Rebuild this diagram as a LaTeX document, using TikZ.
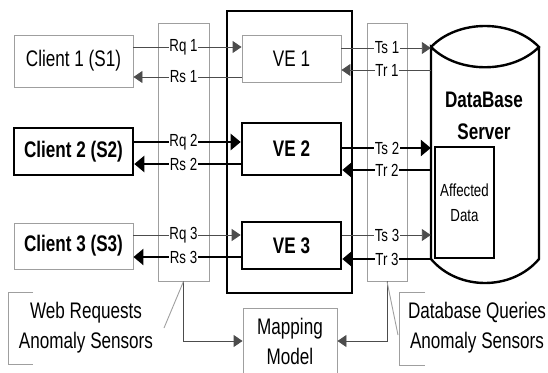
\documentclass[tikz,border=0pt]{standalone}
\usepackage{fontspec}
\newfontfamily\diagfont[FakeStretch=0.76]{Liberation Sans}
\usetikzlibrary{arrows.meta}

\begin{document}
\begin{tikzpicture}[x=1pt, y=-1pt, font=\diagfont\fontsize{22.5}{30}\selectfont,
    thinbox/.style={rectangle, draw=gray!75, line width=0.9pt, align=center},
    thickbox/.style={rectangle, draw=black, line width=2.6pt, align=center, font=\diagfont\fontsize{22.5}{30}\selectfont\bfseries},
    sensor/.style={rectangle, draw=gray!75, line width=0.9pt, minimum height=258pt},
    lab/.style={fill=white, inner sep=0.6pt, font=\diagfont\fontsize{17.5}{18}\selectfont},
    thinarrow/.style={draw=black!70, line width=0.9pt, ->, >={Triangle[length=9pt,width=12pt]}},
    thickarrow/.style={draw=black, line width=2.8pt, ->, >={Triangle[length=10pt,width=16pt]}},
    callout/.style={draw=gray!75, line width=0.9pt}]
    \useasboundingbox (0,0) rectangle (548,372);
    % sensors and virtual environments
    \node [sensor, minimum width=51pt] (lsens) at (183.5,152) {};
    \node [sensor, minimum width=40pt] (rsens) at (387,152) {};
    \node [thickbox, minimum width=125pt, minimum height=282pt] (venv) at (289.5,152) {};
    \node [thinbox, minimum width=119pt, minimum height=52pt] (c1) at (73.5,61) {Client 1 (S1)};
    \node [thickbox, minimum width=119pt, minimum height=47pt] (c2) at (73.5,151.5) {Client 2 (S2)};
    \node [thinbox, minimum width=119pt, minimum height=46pt, font=\diagfont\fontsize{22.5}{30}\selectfont\bfseries] (c3) at (73.5,246) {Client 3 (S3)};
    \node [thinbox, minimum width=99pt, minimum height=47pt] (ve1) at (291.5,58.5) {VE 1};
    \node [thickbox, minimum width=99pt, minimum height=52pt] (ve2) at (291.5,149) {VE 2};
    \node [thickbox, minimum width=99pt, minimum height=47pt] (ve3) at (291.5,245.5) {VE 3};
    % database
    \node [minimum width=108pt, minimum height=212pt, inner sep=0pt] (db) at (485,153) {};
    \draw [line width=2.4pt] (431,47) .. controls (458,19) and (512,19) .. (539,47)
        .. controls (512,74) and (458,74) .. (431,47) -- (431,259)
        .. controls (458,291) and (512,291) .. (539,259) -- (539,47);
    \node [font=\diagfont\fontsize{22.5}{32}\selectfont\bfseries, align=center] (dbtitle) at (484,116) {DataBase\\Server};
    \node [thickbox, minimum width=59pt, minimum height=111pt, inner sep=1pt, font=\diagfont\fontsize{17.5}{25}\selectfont] (aff) at (464.5,202.5) {Affected\\Data};
    \node [thinbox, minimum width=94pt, minimum height=66pt] (map) at (290,341) {Mapping\\Model};
    % client side
    \draw [thinarrow] ([yshift=14pt]c1.east) coordinate (rq1) -- (rq1 -| ve1.west);
    \draw [thinarrow] ([yshift=-18.5pt]ve1.west) coordinate (rs1) -- (rs1 -| c1.east);
    \draw [thickarrow] ([yshift=9.5pt]c2.east) coordinate (rq2) -- (rq2 -| ve2.west);
    \draw [thickarrow] ([yshift=-15pt]ve2.west) coordinate (rs2) -- (rs2 -| c2.east);
    \draw [thinarrow] ([yshift=11pt]c3.east) coordinate (rq3) -- (rq3 -| ve3.west);
    \draw [thickarrow] ([yshift=-11.5pt]ve3.west) coordinate (rs3) -- (rs3 -| c3.east);
    % database side
    \draw [thinarrow] ([yshift=10.5pt]ve1.east) coordinate (ts1) -- (ts1 -| db.west);
    \draw [thinarrow] ([yshift=-11.5pt]ve1.east -| db.west) coordinate (tr1) -- (tr1 -| ve1.east);
    \draw [thickarrow] ([yshift=1pt]ve2.east) coordinate (ts2) -- (ts2 -| db.west);
    \draw [thickarrow] ([yshift=-21pt]ve2.east -| db.west) coordinate (tr2) -- (tr2 -| ve2.east);
    \draw [thinarrow] ([yshift=10.5pt]ve3.east) coordinate (ts3) -- (ts3 -| db.west);
    \draw [thickarrow] ([yshift=-13.5pt]ve3.east -| db.west) coordinate (tr3) -- (tr3 -| ve3.east);
    \node [lab] at (rq1 -| lsens) {Rq 1};
    \node [lab] at (rs1 -| lsens) {Rs 1};
    \node [lab] at (rq2 -| lsens) {Rq 2};
    \node [lab] at (rs2 -| lsens) {Rs 2};
    \node [lab] at (rq3 -| lsens) {Rq 3};
    \node [lab] at (rs3 -| lsens) {Rs 3};
    \node [lab] at (ts1 -| rsens) {Ts 1};
    \node [lab] at (tr1 -| rsens) {Tr 1};
    \node [lab] at (ts2 -| rsens) {Ts 2};
    \node [lab] at (tr2 -| rsens) {Tr 2};
    \node [lab] at (ts3 -| rsens) {Ts 3};
    \node [lab] at (tr3 -| rsens) {Tr 3};
    % mapping and callouts
    \draw [thinarrow] (lsens.south) |- (map.west);
    \draw [thinarrow] (rsens.south) |- (map.east);
    \node [align=center] (wlab) at (86,328) {Web Requests\\Anomaly Sensors};
    \draw [callout] (33,292) -- (8,292) -- (8,364) -- (33,364);
    \coordinate (wtip) at (164,328);
    \draw [callout] (lsens.south) -- (wtip);
    \node [align=center] (dlab) at (477,328) {Database Queries\\Anomaly Sensors};
    \draw [callout] (425,292) -- (399,292) -- (399,365) -- (425,365);
    \coordinate (dtip) at (398,335);
    \draw [callout] (rsens.south) -- (dtip);
\end{tikzpicture}
\end{document}
